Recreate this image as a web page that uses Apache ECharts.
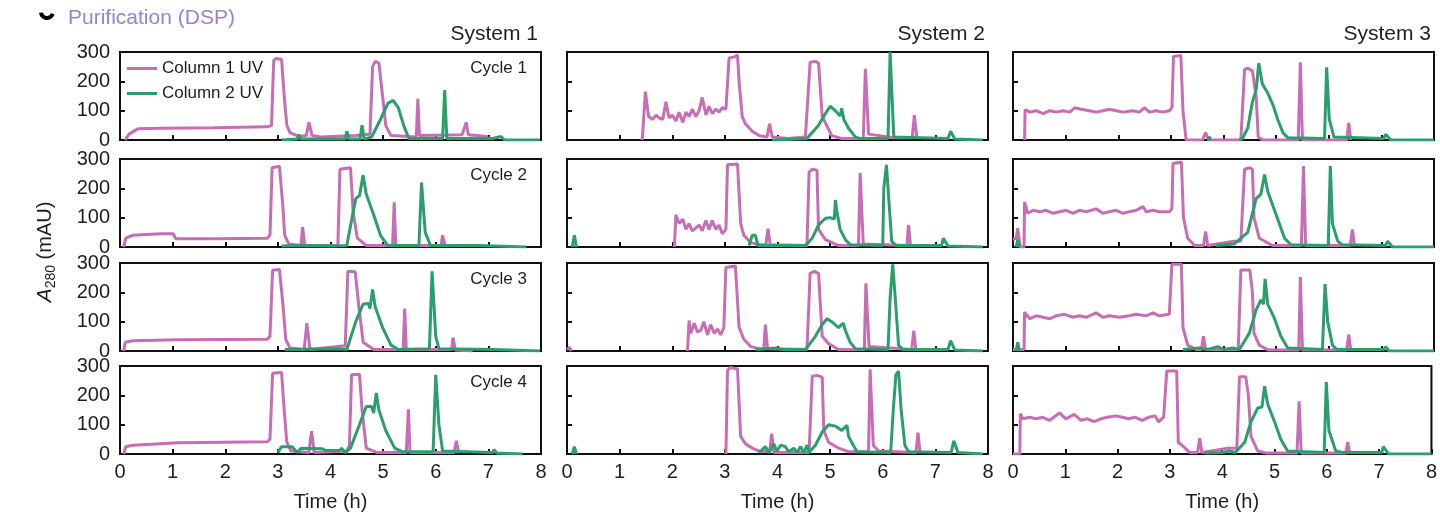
<!DOCTYPE html>
<html>
<head>
<meta charset="utf-8">
<script src="https://cdn.jsdelivr.net/npm/echarts@6/dist/echarts.min.js"></script>
<style>
  html, body { margin: 0; background: #fff; }
  #root { width: 1440px; height: 514px; }
</style>
</head>
<body>
<div id="root"></div>
<script>
// labels
const systems = ['System 1', 'System 2', 'System 3'];
const cycles = ['Cycle 1', 'Cycle 2', 'Cycle 3', 'Cycle 4'];
const seriesNames = ['Column 1 UV', 'Column 2 UV'];
const xTicks = [0, 1, 2, 3, 4, 5, 6, 7, 8];
const yTicks = [0, 100, 200, 300];

// traces, [time h, A280 mAU]; '-' breaks the line
const s1c1uv1 = [[0.1,0],[0.17,20],[0.34,38],[0.77,40],[1.79,42],[2.8,45],[2.88,50],[2.92,270],[2.96,278],[3.07,275],[3.12,150],[3.17,50],[3.23,25],[3.4,12],[3.54,15],[3.59,60],[3.65,15],[3.81,10],[4.48,15],[4.75,20],[4.8,250],[4.85,268],[4.92,262],[4.99,150],[5.05,50],[5.15,15],[5.63,10],[5.66,140],[5.69,15],[6.5,18],[6.58,60],[6.62,18],[6.97,12],[7.0,0]];
const s1c1uv2 = [[3.07,0],[3.37,3],[3.4,18],[3.44,3],[4.28,3],[4.31,30],[4.35,3],[4.56,3],[4.6,50],[4.64,3],[4.78,10],[4.95,70],[5.09,125],[5.19,135],[5.29,110],[5.39,50],[5.49,5],[6.13,5],[6.17,170],[6.21,5],[7.08,5],[7.24,12],[7.31,0],[7.98,0]];
const s1c2uv1 = [[0.07,0],[0.11,30],[0.24,40],[0.77,45],[1.01,45],[1.06,28],[1.79,28],[2.8,30],[2.85,40],[2.89,270],[3.03,275],[3.09,150],[3.13,40],[3.21,10],[3.44,5],[3.47,68],[3.51,5],[4.14,5],[4.18,265],[4.38,270],[4.43,120],[4.51,30],[4.68,5],[5.18,5],[5.21,152],[5.24,5],[6.1,5],[6.13,40],[6.18,3]];
const s1c2uv2 = [[3.07,3],[3.47,5],[4.04,3],[4.31,5],[4.41,100],[4.48,165],[4.55,175],[4.62,245],[4.68,180],[4.82,110],[4.95,40],[5.09,5],[5.68,5],[5.73,220],[5.8,50],[5.9,5],[6.81,5],[6.84,3],[7.72,0]];
const s1c3uv1 = [[0.07,0],[0.1,30],[0.24,35],[1.11,38],[2.8,40],[2.85,50],[2.9,275],[3.03,278],[3.1,150],[3.15,40],[3.23,10],[3.5,5],[3.55,95],[3.61,5],[4.13,15],[4.28,18],[4.33,272],[4.47,270],[4.54,150],[4.62,30],[4.82,5],[5.38,5],[5.41,145],[5.44,5],[6.3,5],[6.33,45],[6.37,3],[6.7,0]];
const s1c3uv2 = [[3.13,5],[4.14,8],[4.31,5],[4.48,100],[4.62,160],[4.72,162],[4.75,145],[4.8,210],[4.85,150],[4.99,80],[5.15,20],[5.29,5],[5.88,8],[5.93,272],[6.0,50],[6.06,8],[7.08,5],[7.98,0]];
const s1c4uv1 = [[0.07,0],[0.11,25],[0.24,30],[1.11,38],[2.8,42],[2.85,50],[2.9,275],[3.07,278],[3.12,150],[3.17,40],[3.25,10],[3.59,5],[3.64,78],[3.69,5],[4.31,10],[4.36,30],[4.4,270],[4.55,272],[4.6,150],[4.68,20],[4.89,5],[5.44,5],[5.48,152],[5.51,5],[6.35,5],[6.39,45],[6.44,3]];
const s1c4uv2 = [[3.0,5],[3.07,25],[3.27,25],[3.37,5],[3.44,20],[3.84,18],[3.91,12],[4.18,12],[4.21,20],[4.28,5],[4.38,20],[4.55,100],[4.68,162],[4.78,162],[4.82,140],[4.87,208],[4.92,150],[5.05,80],[5.22,20],[5.36,8],[5.95,8],[6.0,270],[6.06,100],[6.13,10],[7.08,5],[7.11,15],[7.16,3],[7.65,0]];

const s2c1uv1 = [[1.43,0],[1.49,165],[1.55,80],[1.63,70],[1.69,85],[1.75,75],[1.82,70],[1.88,130],[1.94,75],[2.0,85],[2.07,65],[2.13,95],[2.2,60],[2.26,95],[2.32,80],[2.38,105],[2.45,80],[2.51,100],[2.57,145],[2.64,85],[2.7,115],[2.76,90],[2.83,105],[2.89,95],[2.95,110],[3.02,105],[3.08,280],[3.18,283],[3.24,290],[3.27,200],[3.33,80],[3.39,55],[3.52,30],[3.65,15],[3.8,10],[3.85,55],[3.9,10],[4.2,5],[4.53,10],[4.62,265],[4.72,268],[4.78,262],[4.85,80],[5.03,15],[5.22,5],[5.63,5],[5.67,243],[5.73,20],[6.2,8],[6.56,8],[6.6,85],[6.65,5]];
const s2c1uv2 = [[3.9,0],[4.0,0],[4.56,5],[4.78,50],[4.91,90],[5.0,115],[5.1,100],[5.19,82],[5.22,108],[5.26,70],[5.35,40],[5.48,10],[5.57,5],[6.1,5],[6.14,300],[6.21,10],[7.24,5],[7.29,30],[7.37,3],[7.9,0]];
const s2c2uv1 = [[2.04,0],[2.07,110],[2.13,80],[2.2,95],[2.26,60],[2.32,80],[2.38,55],[2.45,65],[2.51,75],[2.57,55],[2.64,90],[2.7,60],[2.76,90],[2.83,60],[2.89,75],[2.95,45],[3.02,60],[3.05,280],[3.24,283],[3.3,80],[3.36,40],[3.49,15],[3.65,8],[3.78,8],[3.82,62],[3.86,8],[4.56,5],[4.6,255],[4.66,265],[4.75,262],[4.78,60],[4.91,25],[5.16,5],[5.54,5],[5.57,252],[5.63,10],[6.46,5],[6.49,75],[6.53,3]];
const s2c2uv2 = [[0.1,0],[0.14,40],[0.18,0],[0.2,'-'],[3.46,5],[3.52,40],[3.58,40],[3.63,5],[4.53,5],[4.66,30],[4.78,75],[4.91,98],[5.0,100],[5.08,95],[5.1,160],[5.13,120],[5.19,60],[5.29,25],[5.38,8],[6.0,5],[6.02,200],[6.07,280],[6.12,150],[6.17,20],[6.25,5],[7.12,5],[7.15,30],[7.24,3],[7.9,0]];
const s2c3uv1 = [[0,5],[0.05,12],[0.08,0],[0.1,'-'],[2.29,0],[2.32,104],[2.35,60],[2.42,95],[2.48,65],[2.54,70],[2.6,100],[2.67,55],[2.73,90],[2.8,60],[2.86,75],[2.92,55],[2.98,80],[3.02,285],[3.2,290],[3.27,80],[3.36,40],[3.49,15],[3.65,8],[3.74,8],[3.77,90],[3.81,8],[4.56,5],[4.62,265],[4.7,271],[4.78,265],[4.85,50],[4.97,25],[5.16,5],[5.65,5],[5.68,231],[5.74,15],[6.55,5],[6.59,69],[6.63,3]];
const s2c3uv2 = [[3.58,5],[3.99,10],[4.09,5],[4.53,5],[4.72,50],[4.85,90],[4.94,110],[5.03,100],[5.16,80],[5.25,95],[5.29,70],[5.38,30],[5.48,8],[6.1,5],[6.14,180],[6.19,295],[6.25,150],[6.3,20],[6.38,5],[7.24,5],[7.29,35],[7.37,3],[7.9,0]];
const s2c4uv1 = [[3.02,0],[3.05,285],[3.1,295],[3.24,290],[3.3,60],[3.39,35],[3.52,20],[3.65,10],[3.85,8],[3.89,69],[3.93,5],[4.6,5],[4.66,265],[4.75,268],[4.85,262],[4.88,80],[4.97,40],[5.16,20],[5.35,8],[5.73,8],[5.76,289],[5.82,30],[5.92,10],[6.63,5],[6.67,73],[6.71,3]];
const s2c4uv2 = [[0.1,0],[0.14,25],[0.18,0],[0.2,'-'],[3.65,5],[3.77,25],[3.84,5],[3.93,35],[3.99,10],[4.06,30],[4.15,25],[4.21,8],[4.31,20],[4.37,5],[4.44,25],[4.5,5],[4.56,30],[4.6,5],[4.72,30],[4.85,75],[4.97,100],[5.1,95],[5.22,80],[5.32,98],[5.35,60],[5.41,40],[5.51,8],[6.15,5],[6.2,150],[6.25,270],[6.3,283],[6.35,150],[6.42,30],[6.49,8],[7.3,5],[7.35,45],[7.43,5],[7.9,0]];

const s3c1uv1 = [[0.22,0],[0.23,104],[0.32,95],[0.44,100],[0.57,90],[0.7,100],[0.82,95],[0.95,100],[1.08,95],[1.17,110],[1.3,105],[1.45,100],[1.58,95],[1.71,100],[1.83,105],[1.96,100],[2.09,95],[2.28,100],[2.4,95],[2.5,110],[2.59,95],[2.72,100],[2.85,95],[2.97,100],[3.02,110],[3.05,285],[3.19,288],[3.23,100],[3.29,0],[3.6,0],[3.66,25],[3.72,0],[4.33,0],[4.4,240],[4.46,245],[4.55,235],[4.62,150],[4.66,10],[4.75,0],[5.42,0],[5.46,265],[5.5,0],[6.34,0],[6.38,58],[6.42,0]];
const s3c1uv2 = [[3.7,0],[3.73,10],[3.76,0],[3.8,'-'],[4.3,0],[4.36,5],[4.46,40],[4.55,130],[4.62,170],[4.67,262],[4.74,190],[4.84,160],[4.94,120],[5.03,70],[5.13,25],[5.22,8],[5.92,5],[5.96,248],[6.01,70],[6.1,10],[7.05,5],[7.08,20],[7.18,0],[8,0]];
const s3c2uv1 = [[0,25],[0.06,30],[0.09,65],[0.12,20],[0.14,0],[0.21,0],[0.22,153],[0.28,115],[0.38,125],[0.51,120],[0.63,125],[0.76,115],[0.89,120],[1.01,125],[1.14,115],[1.26,125],[1.39,120],[1.58,130],[1.71,115],[1.83,120],[1.96,125],[2.09,115],[2.21,120],[2.34,125],[2.47,138],[2.53,120],[2.66,125],[2.78,120],[2.97,120],[3.02,130],[3.04,285],[3.2,290],[3.24,100],[3.32,30],[3.45,5],[3.62,5],[3.66,53],[3.7,5],[4.2,20],[4.33,20],[4.4,265],[4.5,270],[4.55,265],[4.58,100],[4.68,30],[4.93,5],[5.48,5],[5.52,276],[5.56,5],[6.41,5],[6.45,60],[6.49,3]];
const s3c2uv2 = [[0.06,0],[0.09,25],[0.12,0],[0.15,'-'],[3.86,5],[4.2,10],[4.46,50],[4.62,165],[4.71,180],[4.78,247],[4.84,190],[4.94,140],[5.06,80],[5.16,30],[5.28,8],[5.99,5],[6.03,276],[6.07,80],[6.17,20],[6.25,8],[7.08,5],[7.12,20],[7.21,0],[8,0]];
const s3c3uv1 = [[0,5],[0.21,5],[0.22,132],[0.32,110],[0.44,120],[0.57,115],[0.7,110],[0.82,120],[0.98,125],[1.14,115],[1.26,120],[1.39,115],[1.58,130],[1.71,115],[1.83,120],[2.02,115],[2.21,120],[2.34,125],[2.53,120],[2.66,130],[2.78,120],[2.97,125],[3.02,296],[3.2,296],[3.23,80],[3.32,20],[3.48,5],[3.58,5],[3.62,50],[3.66,5],[4.28,5],[4.33,276],[4.5,276],[4.55,200],[4.58,60],[4.68,20],[4.85,3],[5.43,3],[5.46,252],[5.5,3],[6.34,3],[6.38,56],[6.42,0]];
const s3c3uv2 = [[0.06,0],[0.09,30],[0.12,0],[0.15,'-'],[3.23,5],[3.54,10],[3.7,5],[3.89,15],[4.0,5],[4.18,10],[4.3,5],[4.49,60],[4.62,140],[4.71,174],[4.76,160],[4.79,246],[4.84,160],[4.97,110],[5.09,50],[5.22,10],[5.88,5],[5.93,228],[5.98,100],[6.07,20],[6.15,5],[7.05,5],[7.08,15],[7.15,0],[8,0]];
const s3c4uv1 = [[0,0],[0.13,0],[0.14,137],[0.19,120],[0.32,125],[0.44,120],[0.57,125],[0.7,115],[0.89,140],[1.01,120],[1.17,135],[1.3,115],[1.42,120],[1.55,110],[1.68,120],[1.8,125],[1.96,130],[2.09,125],[2.21,120],[2.34,125],[2.47,115],[2.59,125],[2.72,130],[2.78,110],[2.88,125],[2.94,283],[3.13,283],[3.16,40],[3.26,25],[3.38,5],[3.53,5],[3.57,54],[3.61,5],[4.11,20],[4.28,20],[4.33,263],[4.45,263],[4.5,200],[4.55,60],[4.68,10],[4.85,3],[5.43,3],[5.47,180],[5.51,3],[6.36,3],[6.4,40],[6.44,0]];
const s3c4uv2 = [[3.67,3],[4.0,5],[4.14,10],[4.25,5],[4.43,40],[4.55,110],[4.68,157],[4.76,160],[4.81,231],[4.87,170],[5.0,110],[5.12,50],[5.25,10],[5.95,5],[5.99,245],[6.04,80],[6.17,10],[6.3,5],[7.05,5],[7.08,25],[7.18,0],[8,0]];

const uv1 = [
  [s1c1uv1, s1c2uv1, s1c3uv1, s1c4uv1],
  [s2c1uv1, s2c2uv1, s2c3uv1, s2c4uv1],
  [s3c1uv1, s3c2uv1, s3c3uv1, s3c4uv1]
];
const uv2 = [
  [s1c1uv2, s1c2uv2, s1c3uv2, s1c4uv2],
  [s2c1uv2, s2c2uv2, s2c3uv2, s2c4uv2],
  [s3c1uv2, s3c2uv2, s3c3uv2, s3c4uv2]
];

// layout
const FONT = 'Liberation Sans, Arial, sans-serif';
const PINK = '#c86db5';
const GREEN = '#2a9f6b';
const INK = '#1e1e1e';
const colLeft = [120, 567, 1013];
const rowTop = [52, 159, 263, 366];
const panelW = 421;
const panelH = 88;

const grids = [], xAxes = [], yAxes = [], series = [];
let k = 0;
for (let s = 0; s < systems.length; s++) {
  for (let c = 0; c < cycles.length; c++) {
    const bottomRow = c === cycles.length - 1;
    grids.push({
      left: colLeft[s], top: rowTop[c], width: panelW, height: panelH,
      show: true, borderColor: '#111', borderWidth: 2, backgroundColor: 'transparent'
    });
    xAxes.push({
      type: 'value', gridIndex: k, min: xTicks[0], max: xTicks[xTicks.length - 1], interval: 1,
      axisLine: { show: false },
      axisTick: { show: true, inside: true, length: 5, lineStyle: { color: '#111', width: 2 } },
      axisLabel: { show: bottomRow, fontSize: 20, color: INK, margin: 8, fontFamily: FONT },
      splitLine: { show: false },
      name: bottomRow ? 'Time (h)' : '', nameLocation: 'middle', nameGap: 38,
      nameTextStyle: { fontSize: 20, color: INK, fontFamily: FONT }
    });
    yAxes.push({
      type: 'value', gridIndex: k, min: yTicks[0], max: yTicks[yTicks.length - 1], interval: 100,
      axisLine: { show: false },
      axisTick: { show: true, inside: true, length: 5, lineStyle: { color: '#111', width: 2 } },
      axisLabel: { show: s === 0, fontSize: 20, color: INK, margin: 10, fontFamily: FONT },
      splitLine: { show: false }
    });
    series.push({
      name: seriesNames[0], type: 'line', xAxisIndex: k, yAxisIndex: k,
      data: uv1[s][c], showSymbol: false, symbol: 'none', animation: false,
      lineStyle: { color: PINK, width: 3 }, itemStyle: { color: PINK }, z: 2
    });
    series.push({
      name: seriesNames[1], type: 'line', xAxisIndex: k, yAxisIndex: k,
      data: uv2[s][c], showSymbol: false, symbol: 'none', animation: false,
      lineStyle: { color: GREEN, width: 3 }, itemStyle: { color: GREEN }, z: 3
    });
    k++;
  }
}

const texts = [];
texts.push({ type: 'text', x: 68, y: 18, style: { text: 'Purification (DSP)', fontSize: 21, fontFamily: FONT, fill: '#9c80d6', align: 'left', verticalAlign: 'middle' } });
texts.push({ type: 'arc', shape: { cx: 47, cy: 12, r: 6, startAngle: 0.3, endAngle: Math.PI - 0.1 }, style: { stroke: '#000', lineWidth: 4, fill: null } });
for (let s = 0; s < systems.length; s++) {
  texts.push({ type: 'text', x: colLeft[s] + panelW - 3, y: 34, style: { text: systems[s], fontSize: 21, fontFamily: FONT, fill: INK, align: 'right', verticalAlign: 'middle' } });
}
for (let c = 0; c < cycles.length; c++) {
  texts.push({ type: 'text', x: colLeft[0] + panelW - 14, y: rowTop[c] + 16, style: { text: cycles[c], fontSize: 17, fontFamily: FONT, fill: INK, align: 'right', verticalAlign: 'middle' } });
}
texts.push({
  type: 'text', x: 45, y: 252, rotation: Math.PI / 2,
  style: {
    text: '{i|A}{s|280}{n| (mAU)}', align: 'center', verticalAlign: 'middle', fill: INK,
    rich: {
      i: { fontSize: 21, fontStyle: 'italic', fontFamily: FONT, fill: INK },
      s: { fontSize: 14, fontFamily: FONT, fill: INK, padding: [12, 0, 0, 0] },
      n: { fontSize: 20, fontFamily: FONT, fill: INK }
    }
  }
});

const chart = echarts.init(document.getElementById('root'));
chart.setOption({
  animation: false,
  backgroundColor: '#fff',
  grid: grids,
  xAxis: xAxes,
  yAxis: yAxes,
  legend: {
    data: seriesNames, orient: 'vertical', left: 127, top: 60, itemGap: 8, padding: 0,
    icon: 'rect', itemWidth: 30, itemHeight: 3,
    textStyle: { fontSize: 17, color: INK, fontFamily: FONT }
  },
  graphic: texts,
  series: series
});
</script>
</body>
</html>
